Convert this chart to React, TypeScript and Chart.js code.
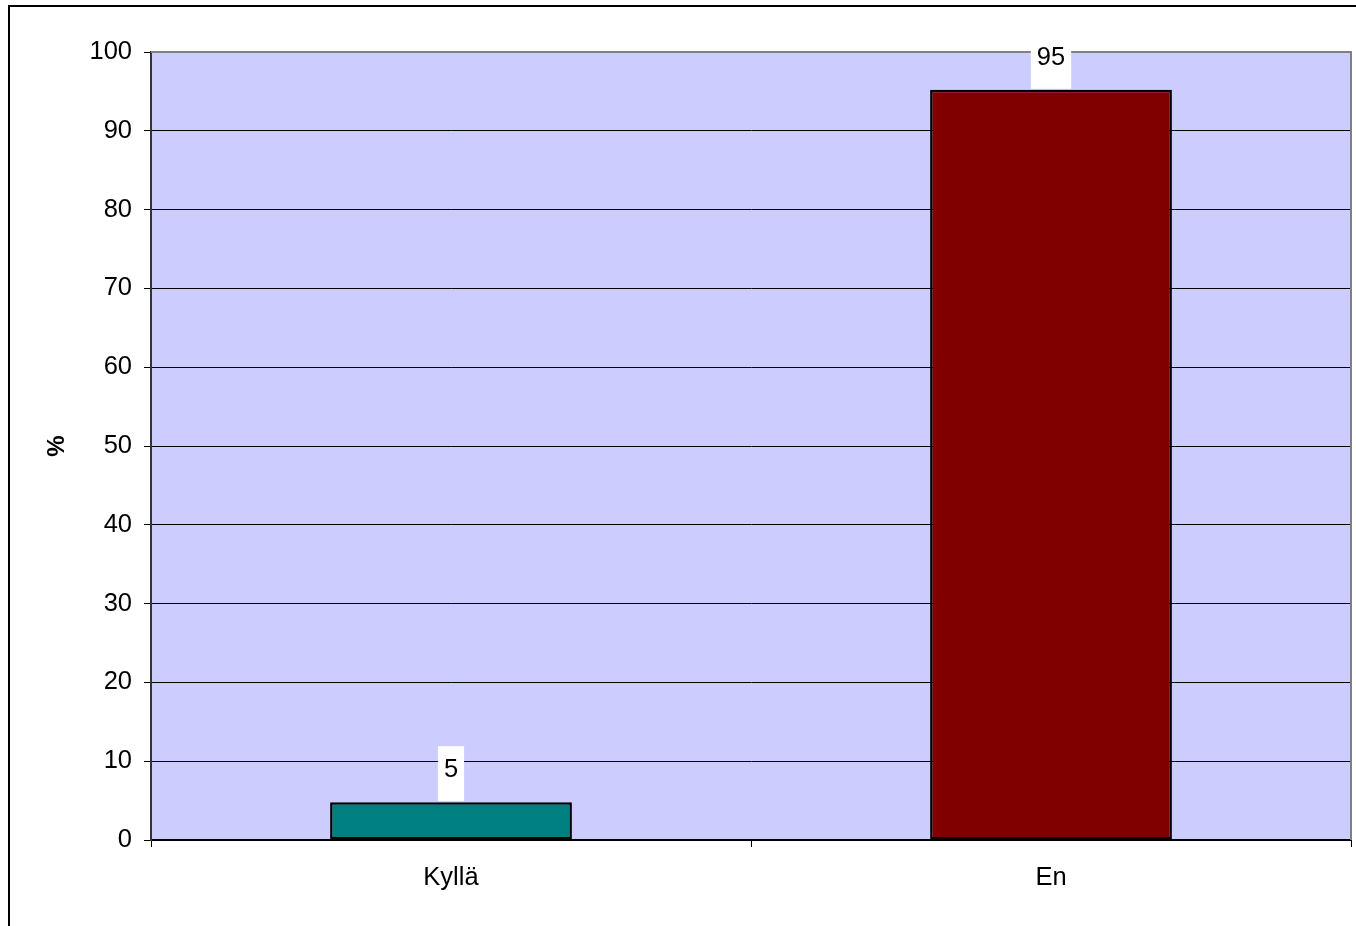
import React, { useEffect, useRef } from "react";
import { Chart, registerables } from "chart.js";

Chart.register(...registerables);

const categories: string[] = ["Kyllä", "En"];
const values: number[] = [4.8, 95.2];
const barColors: string[] = ["#008080", "#800000"];
const yTicks = { min: 0, max: 100, step: 10 };
const yTitle = "%";

const FONT = "'Liberation Sans', Arial, sans-serif";
const FS = 25.5;

const decorPlugin = {
  id: "decor",
  beforeDraw(chart: any) {
    const { ctx, chartArea } = chart;
    ctx.save();
    ctx.fillStyle = "#CCCCFF";
    ctx.fillRect(chartArea.left, chartArea.top, chartArea.right - chartArea.left, chartArea.bottom - chartArea.top);
    ctx.restore();
  },
  afterDatasetsDraw(chart: any) {
    const { ctx, chartArea } = chart;
    ctx.save();
    ctx.strokeStyle = "#808080";
    ctx.lineWidth = 2;
    ctx.beginPath();
    ctx.moveTo(chartArea.left, chartArea.top);
    ctx.lineTo(chartArea.right, chartArea.top);
    ctx.lineTo(chartArea.right, chartArea.bottom);
    ctx.stroke();
    ctx.fillStyle = "#000";
    ctx.font = `bold 24px ${FONT}`;
    ctx.textAlign = "center";
    ctx.textBaseline = "middle";
    ctx.translate(57, 446);
    ctx.rotate(-Math.PI / 2);
    ctx.fillText(yTitle, 0, 0);
    ctx.restore();

    const meta = chart.getDatasetMeta(0);
    ctx.save();
    ctx.font = `${FS}px ${FONT}`;
    ctx.textAlign = "center";
    ctx.textBaseline = "middle";
    meta.data.forEach((bar: any, i: number) => {
      const txt = String(Math.round(values[i]));
      const w = ctx.measureText(txt).width + 12;
      const top = bar.y - 1;
      ctx.fillStyle = "#ffffff";
      ctx.fillRect(bar.x - w / 2, top - 55, w, 55);
      ctx.fillStyle = "#000";
      ctx.fillText(txt, bar.x, top - 31);
    });
    ctx.restore();
  },
};

export default function App() {
  const ref = useRef<HTMLCanvasElement | null>(null);
  useEffect(() => {
    if (!ref.current) return;
    const chart = new Chart(ref.current, {
      type: "bar",
      data: {
        labels: categories,
        datasets: [
          {
            data: values,
            backgroundColor: barColors,
            borderColor: "#000000",
            borderWidth: 2.5,
            borderSkipped: false,
            barPercentage: 0.403,
            categoryPercentage: 1,
          },
        ],
      },
      options: {
        responsive: false,
        animation: false,
        events: [],
        layout: { padding: { left: 51, top: 52, right: 5, bottom: 26 } },
        plugins: { legend: { display: false }, tooltip: { enabled: false }, title: { display: false } },
        scales: {
          x: {
            afterFit: (s: any) => {
              s.height = 60;
            },
            grid: {
              offset: true,
              drawOnChartArea: false,
              drawTicks: true,
              tickLength: 7,
              color: "#000",
            },
            border: { display: true, color: "#000", width: 2 },
            ticks: { color: "#000", font: { family: FONT, size: FS }, padding: 16 },
          },
          y: {
            min: yTicks.min,
            max: yTicks.max,
            afterFit: (s: any) => {
              s.width = 100;
            },
            grid: { color: "#000", lineWidth: 1, tickLength: 7, drawTicks: true },
            border: { display: true, color: "#333", width: 2 },
            ticks: {
              stepSize: yTicks.step,
              color: "#000",
              font: { family: FONT, size: FS },
              padding: 12,
            },
          },
        },
      },
      plugins: [decorPlugin],
    });
    return () => chart.destroy();
  }, []);

  return (
    <div style={{ position: "fixed", left: 0, top: 0, width: "100vw", height: "100vh", overflow: "hidden", background: "#fff" }}>
      <div
        style={{
          position: "absolute",
          left: 8,
          top: 5,
          width: 1400,
          height: 1000,
          borderLeft: "2px solid #000",
          borderTop: "2px solid #000",
        }}
      />
      <canvas ref={ref} width={1356} height={926} style={{ position: "absolute", left: 0, top: 0, width: 1356, height: 926 }} />
    </div>
  );
}
